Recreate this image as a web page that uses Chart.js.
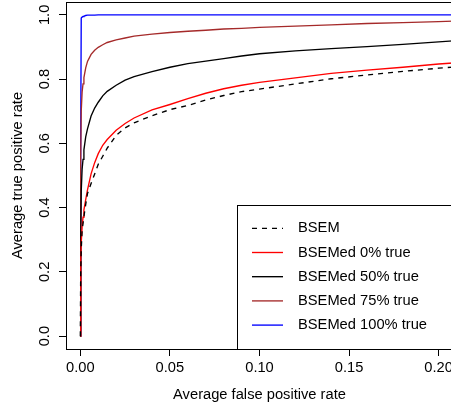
<!DOCTYPE html>
<html>
<head>
<meta charset="utf-8">
<script src="https://cdn.jsdelivr.net/npm/chart.js@4/dist/chart.umd.min.js"></script>
<style>
html, body { margin: 0; padding: 0; background: #fff; overflow: hidden; }
#wrap { width: 451px; height: 410px; overflow: hidden; position: relative; }
canvas { display: block; }
</style>
</head>
<body>
<div id="wrap"><canvas id="roc" width="470" height="410"></canvas></div>
<script>
// Average false positive rate (shared grid for every curve)
const fpr = [0, 0.0002, 0.0005, 0.001, 0.0015, 0.002, 0.003, 0.004, 0.006, 0.008, 0.01, 0.0125, 0.015,
             0.02, 0.025, 0.03, 0.04, 0.05, 0.06, 0.07, 0.08, 0.09, 0.1, 0.12, 0.14, 0.16, 0.18, 0.2, 0.21];

// Average true positive rate for each method
const tprBSEM      = [0, 0.20, 0.27, 0.33, 0.35, 0.372, 0.41, 0.444, 0.475, 0.505, 0.535, 0.56, 0.585,
                      0.625, 0.648, 0.664, 0.686, 0.705, 0.718, 0.735, 0.749, 0.761, 0.769, 0.785, 0.801, 0.813, 0.824, 0.834, 0.838];
const tprMed0      = [0, 0.235, 0.29, 0.34, 0.37, 0.393, 0.425, 0.455, 0.505, 0.54, 0.568, 0.594, 0.612,
                      0.641, 0.662, 0.679, 0.704, 0.721, 0.739, 0.756, 0.77, 0.781, 0.79, 0.804, 0.818, 0.828, 0.837, 0.847, 0.851];
const tprMed50     = [0, 0.30, 0.45, 0.52, 0.55, 0.58, 0.62, 0.645, 0.685, 0.71, 0.728, 0.748, 0.762,
                      0.781, 0.797, 0.808, 0.823, 0.837, 0.848, 0.856, 0.864, 0.872, 0.879, 0.888, 0.895, 0.901, 0.908, 0.916, 0.92];
const tprMed75     = [0, 0.55, 0.70, 0.76, 0.785, 0.805, 0.835, 0.855, 0.877, 0.89, 0.899, 0.907, 0.914,
                      0.922, 0.928, 0.934, 0.94, 0.945, 0.949, 0.952, 0.956, 0.958, 0.961, 0.965, 0.969, 0.973, 0.976, 0.979, 0.981];
const tprMed100    = [0, 0.60, 0.99, 0.993, 0.995, 0.996, 0.998, 0.999, 0.999, 0.999, 1, 1, 1,
                      1, 1, 1, 1, 1, 1, 1, 1, 1, 1, 1, 1, 1, 1, 1, 1];

const seriesNames = ['BSEM', 'BSEMed 0% true', 'BSEMed 50% true', 'BSEMed 75% true', 'BSEMed 100% true'];

const xTicks = [0, 0.05, 0.1, 0.15, 0.2];
const xTickLabels = ['0.00', '0.05', '0.10', '0.15', '0.20'];
const yTicks = [0, 0.2, 0.4, 0.6, 0.8, 1.0];
const yTickLabels = ['0.0', '0.2', '0.4', '0.6', '0.8', '1.0'];

const FONT = "'Liberation Sans', Arial, Helvetica, sans-serif";
const FSIZE = 14.7;

const toPoints = tpr => fpr.map((x, i) => ({ x: x, y: tpr[i] }));

const datasets = [
  { label: seriesNames[0], data: toPoints(tprBSEM),   borderColor: '#000000', borderDash: [5, 5] },
  { label: seriesNames[1], data: toPoints(tprMed0),   borderColor: '#ff0000' },
  { label: seriesNames[2], data: toPoints(tprMed50),  borderColor: '#000000' },
  { label: seriesNames[3], data: toPoints(tprMed75),  borderColor: '#a52a2a' },
  { label: seriesNames[4], data: toPoints(tprMed100), borderColor: '#0000ff' }
].map(d => Object.assign({ borderWidth: 1.35, pointRadius: 0, fill: false, tension: 0, borderCapStyle: 'butt' }, d));

// Plot frame, rotated y tick labels and the boxed legend in the lower right
const frameAndLegend = {
  id: 'frameAndLegend',
  afterDraw(chart) {
    const { ctx, chartArea } = chart;
    const yScale = chart.scales.y;
    ctx.save();

    // frame
    ctx.strokeStyle = '#000';
    ctx.lineWidth = 1;
    ctx.strokeRect(chartArea.left + 0.5, chartArea.top + 0.5,
                   chartArea.right - chartArea.left, chartArea.bottom - chartArea.top);

    // y tick labels, reading bottom to top
    ctx.fillStyle = '#000';
    ctx.font = FSIZE + 'px ' + FONT;
    ctx.textAlign = 'center';
    ctx.textBaseline = 'alphabetic';
    yTicks.forEach((v, i) => {
      const py = yScale.getPixelForValue(v);
      ctx.save();
      ctx.translate(yScale.right - 17.5, py);
      ctx.rotate(-Math.PI / 2);
      ctx.fillText(yTickLabels[i], 0, 0);
      ctx.restore();
    });

    // legend
    const left = chartArea.right - 216;
    const top = chartArea.bottom - 144;
    ctx.fillStyle = '#fff';
    ctx.fillRect(left + 0.5, top + 0.5, chartArea.right - left, chartArea.bottom - top);
    ctx.strokeStyle = '#000';
    ctx.strokeRect(left + 0.5, top + 0.5, chartArea.right - left, chartArea.bottom - top);
    ctx.textAlign = 'left';
    ctx.textBaseline = 'middle';
    chart.data.datasets.forEach((ds, i) => {
      const y = top + 23.3 + i * 24.2;
      ctx.beginPath();
      ctx.strokeStyle = ds.borderColor;
      ctx.lineWidth = ds.borderWidth;
      ctx.setLineDash(ds.borderDash || []);
      ctx.moveTo(left + 15, y);
      ctx.lineTo(left + 46, y);
      ctx.stroke();
      ctx.setLineDash([]);
      ctx.fillStyle = '#000';
      ctx.fillText(ds.label, left + 61, y);
    });
    ctx.restore();
  }
};

new Chart(document.getElementById('roc'), {
  type: 'line',
  data: { datasets: datasets },
  options: {
    responsive: false,
    animation: false,
    devicePixelRatio: 1,
    layout: { padding: { left: 0, top: 2, right: 17, bottom: 0 } },
    plugins: { legend: { display: false }, tooltip: { enabled: false } },
    scales: {
      x: {
        type: 'linear',
        min: -0.008,
        max: 0.208,
        afterBuildTicks: s => { s.ticks = xTicks.map(v => ({ value: v })); },
        afterFit: s => { s.height = 61; },
        grid: { drawOnChartArea: false, drawTicks: true, tickLength: 7, color: '#000', lineWidth: 1 },
        border: { display: true, color: '#000', width: 1 },
        ticks: {
          color: '#000', font: { family: FONT, size: FSIZE }, padding: 3,
          maxRotation: 0, minRotation: 0, autoSkip: false,
          callback: (v, i) => xTickLabels[i]
        },
        title: {
          display: true, text: 'Average false positive rate', color: '#000',
          font: { family: FONT, size: FSIZE }, padding: { top: 0, bottom: 6.5 }
        }
      },
      y: {
        type: 'linear',
        min: -0.04,
        max: 1.04,
        afterBuildTicks: s => { s.ticks = yTicks.map(v => ({ value: v })); },
        afterFit: s => { s.width = 66; },
        grid: { drawOnChartArea: false, drawTicks: true, tickLength: 7, color: '#000', lineWidth: 1 },
        border: { display: true, color: '#000', width: 1 },
        ticks: { display: false },
        title: {
          display: true, text: 'Average true positive rate', color: '#000',
          font: { family: FONT, size: FSIZE }, padding: { top: 9.2, bottom: 0 }
        }
      }
    }
  },
  plugins: [frameAndLegend]
});
</script>
</body>
</html>
